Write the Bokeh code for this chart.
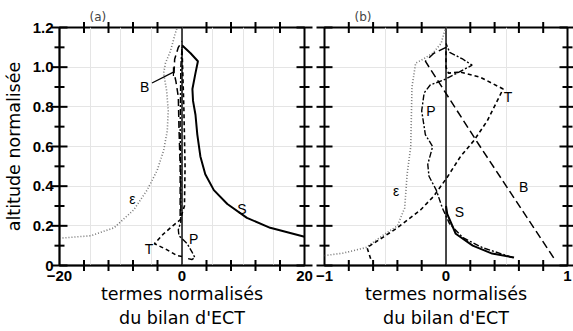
from bokeh.plotting import figure
from bokeh.layouts import row
from bokeh.models import FixedTicker, LinearAxis, Range1d, PrintfTickFormatter, BasicTickFormatter
from bokeh.core.properties import value
from bokeh.embed import file_html
from bokeh.resources import INLINE

# ---------------- ticks ----------------
a_xticks = [-20, 0, 20]
a_xminor = [-16, -12, -8, -4, 4, 8, 12, 16]
b_xticks = [-1, 0, 1]
b_xminor = [-0.8, -0.6, -0.4, -0.2, 0.2, 0.4, 0.6, 0.8]
yticks = [0, 0.2, 0.4, 0.6, 0.8, 1.0, 1.2]
yminor = [0.1, 0.3, 0.5, 0.7, 0.9, 1.1]

# ---------------- data : panel (a) ----------------
eps_a_x = [-20, -19.8, -14.9, -11.1, -7.9, -5.7, -4.05, -3.0, -2.4, -2.25, -2.5, -3.0, -2.7, -1.9, -1.1, -0.8]
eps_a_y = [0.137, 0.138, 0.15, 0.19, 0.28, 0.38, 0.48, 0.58, 0.68, 0.78, 0.88, 0.97, 1.02, 1.08, 1.17, 1.2]

S_a_x = [0.0, 1.4, 2.6, 2.2, 1.7, 1.8, 2.2, 2.5, 3.0, 3.8, 5.2, 7.4, 10.6, 14.4, 20.0]
S_a_y = [1.11, 1.07, 1.03, 0.97, 0.89, 0.83, 0.76, 0.66, 0.55, 0.46, 0.38, 0.31, 0.24, 0.19, 0.145]

B_a_x = [-0.3, -0.3, -0.5, -0.6, -1.0, -1.3, -1.2, -0.6, 0.0]
B_a_y = [0.25, 0.5, 0.7, 0.85, 0.93, 0.97, 1.04, 1.1, 1.13]

T_a_x = [0.0, -0.8, -2.5, -4.5, -3.0, -1.5, -0.3, 0.4, 0.5, 0.3, 0.1, 0.0]
T_a_y = [0.045, 0.05, 0.08, 0.11, 0.16, 0.2, 0.23, 0.3, 0.5, 0.8, 1.0, 1.1]

P_a_x = [1.0, 1.6, 2.1, 1.6, 0.85, 0.2, -0.5, -0.6, -0.2, -0.2, -0.3, -0.2, 0.0]
P_a_y = [0.035, 0.03, 0.04, 0.07, 0.11, 0.13, 0.15, 0.18, 0.22, 0.4, 0.7, 1.0, 1.1]

lead_a_x = [-4.9, -1.4]
lead_a_y = [0.92, 0.975]
mark_a_x = [-1.4, -1.4]
mark_a_y = [0.955, 1.0]

lab_a_x = [-8.1, 9.8, -6.1, -5.4, 1.9]
lab_a_y = [0.335, 0.285, 0.90, 0.085, 0.135]
lab_a_t = ["ε", "S", "B", "T", "P"]

# ---------------- data : panel (b) ----------------
eps_b_x = [-1.0, -0.85, -0.66, -0.50, -0.40, -0.34, -0.32, -0.29, -0.28, -0.25, -0.19, -0.11, -0.04, -0.01, 0.0]
eps_b_y = [0.05, 0.062, 0.09, 0.16, 0.20, 0.29, 0.46, 0.60, 0.90, 1.02, 1.04, 1.07, 1.12, 1.185, 1.2]

S_b_x = [0.56, 0.38, 0.22, 0.08, 0.01, 0.0]
S_b_y = [0.04, 0.06, 0.10, 0.16, 0.26, 0.30]

B_b_x = [0.0, -0.1, -0.17, 0.27, 0.89]
B_b_y = [1.10, 1.07, 1.03, 0.61, 0.035]

T_b_x = [-0.62, -0.65, -0.40, -0.21, -0.10, 0.01, 0.12, 0.23, 0.34, 0.47, 0.28, 0.12, 0.02, 0.0, 0.0]
T_b_y = [0.034, 0.09, 0.19, 0.28, 0.35, 0.445, 0.55, 0.63, 0.73, 0.89, 0.95, 0.975, 0.97, 1.0, 1.1]

P_b_x = [0.55, 0.30, 0.14, 0.03, -0.03, -0.08, -0.14, -0.15, -0.11, -0.17, -0.20, -0.18, -0.13, -0.02, 0.09, 0.215, 0.14, 0.03, 0.0]
P_b_y = [0.04, 0.09, 0.14, 0.21, 0.29, 0.38, 0.45, 0.51, 0.60, 0.66, 0.78, 0.87, 0.91, 0.935, 0.97, 1.01, 1.04, 1.075, 1.12]

lab_b_x = [-0.41, 0.11, 0.64, -0.125, 0.51]
lab_b_y = [0.375, 0.27, 0.395, 0.78, 0.85]
lab_b_t = ["ε", "S", "B", "P", "T"]

zero_y = [0.0, 1.2]
zero_x = [0.0, 0.0]

XLABEL = "termes normalisés\ndu bilan d'ECT"
YLABEL = "altitude normalisée"

TICK_FONT = "Liberation Sans"
LAB_FONT = "DejaVu Sans"


def style_axis(ax):
    ax.axis_line_color = "black"
    ax.axis_line_width = 1.5
    ax.major_tick_in = 0
    ax.major_tick_out = 0
    ax.minor_tick_in = 0
    ax.minor_tick_out = 0
    ax.minor_tick_line_color = None
    ax.major_label_text_font = TICK_FONT
    ax.major_label_text_font_style = "bold"
    ax.major_label_text_color = "black"
    ax.major_label_text_font_size = "15px"
    ax.axis_label_text_font = LAB_FONT
    ax.axis_label_text_font_style = "normal"
    ax.axis_label_text_font_size = "17.5px"
    ax.axis_label_text_color = "black"


def make_panel(title, width, left, right, xr, xt, yl):
    p = figure(width=width, height=331, x_range=Range1d(*xr), y_range=Range1d(0, 1.2),
               output_backend="svg", toolbar_location=None,
               x_axis_location=None, y_axis_location=None,
               min_border_left=left, min_border_right=right,
               min_border_top=27, min_border_bottom=66, title=title)
    p.title.align = "left"
    p.title.offset = 30
    p.title.text_font = LAB_FONT
    p.title.text_font_size = "12px"
    p.title.text_font_style = "normal"
    p.title.standoff = 8
    p.outline_line_color = "black"
    p.outline_line_width = 2
    p.background_fill_color = "white"
    p.border_fill_color = "white"

    bottom = LinearAxis(ticker=FixedTicker(ticks=xt), formatter=BasicTickFormatter(),
                        axis_label=XLABEL)
    style_axis(bottom)
    bottom.major_label_standoff = 5
    bottom.axis_label_standoff = 0
    p.add_layout(bottom, "below")

    if yl:
        left_ax = LinearAxis(ticker=FixedTicker(ticks=yticks),
                             formatter=PrintfTickFormatter(format="%.1f"), axis_label=YLABEL)
        style_axis(left_ax)
        left_ax.major_label_overrides = {0: "0"}
        left_ax.major_label_standoff = 6
        left_ax.axis_label_standoff = 6
        p.add_layout(left_ax, "left")
    return p


def add_ticks(p, xr, xm):
    # tick marks: screen-pixel sized rectangles centred on the frame edges (overlay level)
    x0, x1 = xr
    for xe in (x0, x1):
        p.rect(x=[xe] * len(yticks), y=yticks, width=16, height=2,
               width_units="screen", height_units="screen",
               fill_color="black", line_color=None, level="overlay")
        p.rect(x=[xe] * len(yminor), y=yminor, width=10, height=2,
               width_units="screen", height_units="screen",
               fill_color="black", line_color=None, level="overlay")
    for ye in (0, 1.2):
        p.rect(x=xm, y=[ye] * len(xm), width=2, height=11,
               width_units="screen", height_units="screen",
               fill_color="black", line_color=None, level="overlay")


pa = make_panel("(a)", 314, 59, 10, (-20, 20), a_xticks, True)
pb = make_panel("(b)", 259, 10, 6, (-1, 1), b_xticks, False)

add_ticks(pa, (-20, 20), a_xminor)
add_ticks(pb, (-1, 1), b_xminor)

for p in (pa, pb):
    p.line(zero_x, zero_y, line_color="black", line_width=1.4)

# panel (a) curves
pa.line(eps_a_x, eps_a_y, line_color="#777777", line_width=1.6, line_dash="1 2")
pa.line(S_a_x, S_a_y, line_color="black", line_width=2)
pa.line(B_a_x, B_a_y, line_color="black", line_width=1.5, line_dash="7 4")
pa.line(T_a_x, T_a_y, line_color="black", line_width=1.6, line_dash="4 3")
pa.line(P_a_x, P_a_y, line_color="black", line_width=1.4, line_dash="6 2 2 2")
pa.line(lead_a_x, lead_a_y, line_color="black", line_width=1.2)
pa.line(mark_a_x, mark_a_y, line_color="black", line_width=1.2)
pa.text(lab_a_x, lab_a_y, text=lab_a_t, text_font=value(TICK_FONT), text_font_size="14px",
        text_align="center", text_baseline="middle", text_color="black")

# panel (b) curves
pb.line(eps_b_x, eps_b_y, line_color="#777777", line_width=1.6, line_dash="1 2")
pb.line(S_b_x, S_b_y, line_color="black", line_width=2)
pb.line(B_b_x, B_b_y, line_color="black", line_width=1.5, line_dash="8 4")
pb.line(T_b_x, T_b_y, line_color="black", line_width=1.6, line_dash="4 3")
pb.line(P_b_x, P_b_y, line_color="black", line_width=1.4, line_dash="6 2 2 2")
pb.text(lab_b_x, lab_b_y, text=lab_b_t, text_font=value(TICK_FONT), text_font_size="14px",
        text_align="center", text_baseline="middle", text_color="black")

layout = row(pa, pb)
open("out.html", "w").write(file_html(layout, INLINE))
